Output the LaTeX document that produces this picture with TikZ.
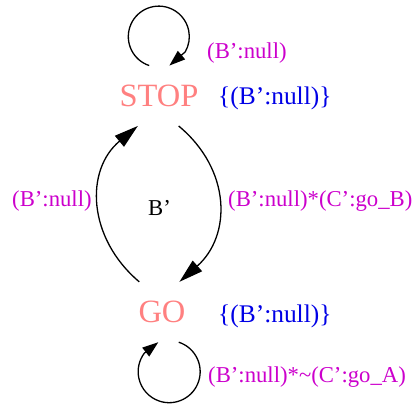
\documentclass[tikz,border=0pt]{standalone}
\usepackage{fontspec}
\setmainfont{Liberation Serif}
\usetikzlibrary{arrows.meta}
\definecolor{statecol}{RGB}{255,128,128}
\definecolor{setcol}{RGB}{0,0,230}
\definecolor{labcol}{RGB}{204,0,204}
\begin{document}
\begin{tikzpicture}[x=1pt,y=1pt,
  state/.style={rectangle,inner sep=0pt,minimum width=90pt,minimum height=60pt,
    text=statecol,font=\fontsize{32.5}{36}\selectfont},
  setlab/.style={anchor=base west,inner sep=0pt,text=setcol,font=\fontsize{25.4}{29}\selectfont},
  edgelab/.style={anchor=base west,inner sep=0pt,text=labcol,font=\fontsize{22.7}{26}\selectfont},
  plainlab/.style={anchor=base west,inner sep=0pt,text=black,font=\fontsize{22.7}{26}\selectfont},
  arcedge/.style={line width=1.3pt,-{Triangle[length=24pt,width=14pt]}},
  loopedge/.style={line width=1.3pt,-{Triangle[length=16pt,width=11pt]}}]
\useasboundingbox (0,0) rectangle (414,-405);
\node[state] (stop) at (159,-95.75) {STOP};
\node[state] (go) at (162,-312) {GO};
\node[setlab] (stopset) at (218,-104) {\{(B’:null)\}};
\node[setlab] (goset) at (218,-322) {\{(B’:null)\}};
\node[edgelab] (toplab) at (207,-58) {(B’:null)};
\node[edgelab] (leftlab) at (12,-206) {(B’:null)};
\node[edgelab] (rightlab) at (228,-206) {(B’:null)*(C’:go\_B)};
\node[edgelab] (botlab) at (208,-382) {(B’:null)*\textasciitilde(C’:go\_A)};
\node[plainlab] (mid) at (148,-215) {B’};
% self loops
\draw[loopedge] (stop.108.4) arc[start angle=251.6, end angle=-30, radius=30.5] -- (stop.71.6);
\draw[loopedge] (go.-61.9) arc[start angle=72, end angle=-216.5, radius=31] -- (go.-97.6);
% arcs between states
\draw[arcedge] (go.127.5) .. controls +(-52,44) and +(-53,-44) .. (stop.-125);
\draw[arcedge] (stop.-57.7) .. controls +(53,-44) and +(52,46) .. (go.60.5);
\end{tikzpicture}
\end{document}
